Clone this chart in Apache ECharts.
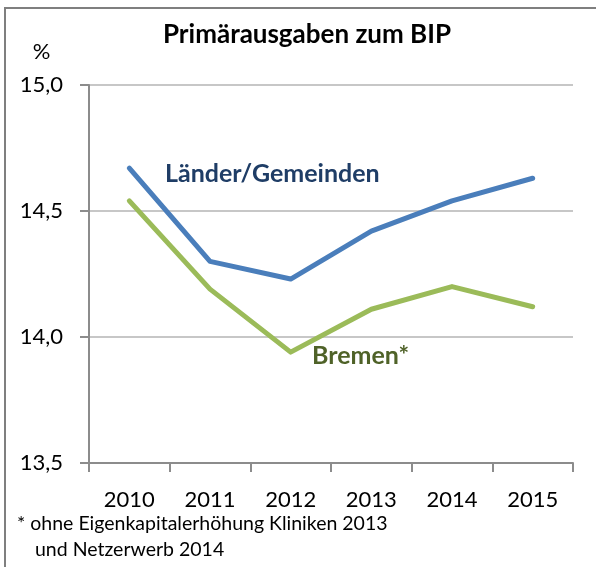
<!DOCTYPE html>
<html>
<head>
<meta charset="utf-8">
<script src="https://cdn.jsdelivr.net/npm/echarts@6/dist/echarts.min.js"></script>
<style>
  html, body { margin: 0; padding: 0; background: #fff; }
  #chart { width: 596px; height: 567px; }
</style>
</head>
<body>
<div id="chart"></div>
<script>
var years = ['2010', '2011', '2012', '2013', '2014', '2015'];
var laenderGemeinden = [14.67, 14.30, 14.23, 14.42, 14.54, 14.63];
var bremen = [14.54, 14.19, 13.94, 14.11, 14.20, 14.12];

var font = 'Lato, "Noto Sans", sans-serif';
var chart = echarts.init(document.getElementById('chart'));

var options = {
    backgroundColor: '#fff',
    animation: false,
    title: {
        text: 'Primärausgaben zum BIP',
        left: 302,
        top: 17,
        textAlign: 'center',
        textStyle: { fontFamily: font, fontSize: 26, fontWeight: 'bold', color: '#000' }
    },
    grid: { left: 89, right: 23, top: 85, bottom: 104, containLabel: false },
    xAxis: {
        type: 'category',
        data: years,
        boundaryGap: true,
        axisLine: { lineStyle: { color: '#8c8c8c', width: 2 } },
        axisTick: { show: true, length: 9, lineStyle: { color: '#8c8c8c', width: 2 } },
        axisLabel: { margin: 26, fontFamily: font, fontSize: 22, color: '#000' }
    },
    yAxis: {
        type: 'value',
        min: 13.5,
        max: 15.0,
        interval: 0.5,
        name: '%',
        nameLocation: 'end',
        nameGap: 22,
        nameTextStyle: { fontFamily: font, fontSize: 22, color: '#000', align: 'center', padding: [0, 0, 0, -95] },
        axisLine: { show: true, lineStyle: { color: '#8c8c8c', width: 2 } },
        axisTick: { show: true, length: 9, lineStyle: { color: '#8c8c8c', width: 2 } },
        splitLine: { lineStyle: { color: '#b4b4b4', width: 1.5 } },
        axisLabel: {
            margin: 26,
            fontFamily: font, fontSize: 22, color: '#000',
            formatter: function (v) { return v.toFixed(1).replace('.', ','); }
        }
    },
    series: [
        {
            name: 'Länder/Gemeinden',
            type: 'line',
            data: laenderGemeinden,
            symbol: 'none',
            lineStyle: { color: '#4a7ebb', width: 5, cap: 'round', join: 'round' },
            z: 3
        },
        {
            name: 'Bremen*',
            type: 'line',
            data: bremen,
            symbol: 'none',
            lineStyle: { color: '#9bbb59', width: 5, cap: 'round', join: 'round' },
            z: 2
        }
    ],
    graphic: [
        {
            type: 'rect',
            shape: { x: 5, y: 8, width: 700, height: 700 },
            style: { fill: 'none', stroke: '#7f7f7f', lineWidth: 2 },
            silent: true
        },
        {
            type: 'text', left: 165, top: 161,
            style: { text: 'Länder/Gemeinden', font: 'bold 25px ' + font, fill: '#1f3d66' }
        },
        {
            type: 'text', left: 312, top: 343,
            style: { text: 'Bremen*', font: 'bold 25px ' + font, fill: '#4f6228' }
        },
        {
            type: 'text', left: 17, top: 514,
            style: { text: '* ohne Eigenkapitalerhöhung Kliniken 2013', font: '19.5px ' + font, fill: '#000' }
        },
        {
            type: 'text', left: 35, top: 540,
            style: { text: 'und Netzerwerb 2014', font: '19.5px ' + font, fill: '#000' }
        }
    ]
};
chart.setOption(options);
</script>
</body>
</html>
